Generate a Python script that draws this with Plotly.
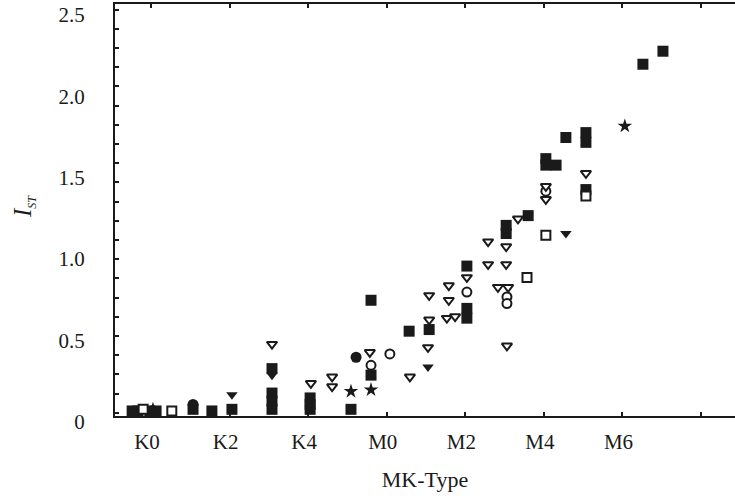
import plotly.graph_objects as go

# MK spectral subtype as a number: K0=0 ... K4=4, M0=6, M2=8 ... (K5 = 5)
tick_vals = [0, 2, 4, 6, 8, 10, 12]
tick_text = ["K0", "K2", "K4", "M0", "M2", "M4", "M6"]
y_tick_vals = [0, 0.5, 1.0, 1.5, 2.0, 2.5]
y_tick_text = ["0", "0.5", "1.0", "1.5", "2.0", "2.5"]

# filled squares
fs_x = [-0.48, -0.33, -0.03, 0.13, 1.07, 1.55, 2.06, 3.08, 3.08, 3.08, 3.08, 4.05, 4.05, 4.05,
        5.09, 5.6, 5.6, 6.57, 7.08, 8.04, 8.04, 8.04, 9.04, 9.04, 9.6, 10.05, 10.05, 10.31,
        10.56, 11.07, 11.07, 11.07, 12.52, 13.03]
fs_y = [0.03, 0.03, 0.03, 0.03, 0.04, 0.03, 0.04, 0.14, 0.09, 0.04, 0.29, 0.11, 0.07, 0.04,
        0.04, 0.25, 0.71, 0.52, 0.53, 0.92, 0.66, 0.60, 1.17, 1.12, 1.23, 1.58, 1.54, 1.54,
        1.71, 1.74, 1.68, 1.39, 2.16, 2.24]
# open squares
os_x = [-0.2, 0.53, 9.57, 10.05, 11.07]
os_y = [0.04, 0.03, 0.85, 1.11, 1.35]
# filled circles
fc_x = [1.07, 5.22]
fc_y = [0.07, 0.36]
# open circles
oc_x = [5.6, 6.08, 8.04, 9.06, 9.06, 10.05]
oc_y = [0.31, 0.38, 0.76, 0.73, 0.69, 1.38]
# filled down-triangles
ft_x = [2.06, 3.08, 7.05, 10.56]
ft_y = [0.13, 0.25, 0.30, 1.12]
# open down-triangles
ot_x = [3.08, 4.07, 4.61, 4.61, 5.57, 6.59, 7.08, 7.05, 7.08, 7.58, 7.58, 7.53, 7.74, 8.04,
        8.58, 8.58, 9.04, 9.04, 8.83, 9.09, 9.06, 9.34, 10.05, 10.05, 11.07]
ot_y = [0.44, 0.20, 0.24, 0.18, 0.39, 0.24, 0.59, 0.42, 0.74, 0.80, 0.71, 0.60, 0.61, 0.85,
        1.07, 0.93, 1.04, 0.93, 0.79, 0.79, 0.43, 1.21, 1.41, 1.33, 1.49]
# stars
st_x = [0.05, 5.09, 5.6, 12.06]
st_y = [0.04, 0.15, 0.16, 1.78]

INK = "#1a1a1a"
FONT = "Liberation Serif, Times New Roman, serif"

fig = go.Figure()

def add(xs, ys, symbol, size, filled):
    if filled:
        marker = dict(symbol=symbol, size=size, color=INK, line=dict(width=0))
    else:
        marker = dict(symbol=symbol, size=size, color="white", line=dict(color=INK, width=2))
    fig.add_trace(go.Scatter(x=xs, y=ys, mode="markers", marker=marker,
                             showlegend=False, hoverinfo="skip", cliponaxis=False))

add(fs_x, fs_y, "square", 11, True)
add(fc_x, fc_y, "circle", 11, True)
add(ft_x, ft_y, "triangle-down", 10, True)
add(st_x, st_y, "star", 11, True)
add(os_x, os_y, "square", 9, False)
add(oc_x, oc_y, "circle", 9, False)
add(ot_x, ot_y, "triangle-down", 9, False)

fig.update_layout(
    width=735, height=500,
    margin=dict(l=115, r=0, t=4, b=84, autoexpand=False),
    paper_bgcolor="white", plot_bgcolor="white",
    font=dict(family=FONT, size=21, color=INK),
    xaxis=dict(
        range=[-0.916, 14.864], automargin=False,
        tickmode="array", tickvals=tick_vals, ticktext=tick_text,
        ticks="inside", ticklen=4, tickwidth=2, tickcolor=INK,
        showline=True, linecolor=INK, linewidth=2, mirror="ticks",
        showgrid=False, zeroline=False,
        ticklabelshift=-4, ticklabelstandoff=6, ticklabeloverflow="allow",
        minor=dict(tickmode="linear", tick0=0, dtick=2, ticks="inside",
                   ticklen=4, tickwidth=2, tickcolor=INK, showgrid=False),
        title=dict(text="MK-Type", font=dict(size=22), standoff=18),
    ),
    yaxis=dict(
        range=[-0.001, 2.53], automargin=False,
        tickmode="array", tickvals=y_tick_vals, ticktext=y_tick_text,
        ticks="", showline=True, linecolor=INK, linewidth=2, mirror=False,
        showgrid=False, zeroline=False,
        ticklabelshift=6, ticklabelstandoff=24, ticklabeloverflow="allow",
        minor=dict(tickmode="linear", tick0=0.018, dtick=0.118, ticks="inside",
                   ticklen=4, tickwidth=2, tickcolor=INK, showgrid=False),
    ),
    annotations=[dict(
        text="<i>I</i><sub><span style='font-size:12px'><i>ST</i></span></sub>",
        xref="paper", yref="paper", x=(24 - 115) / 620, y=(416 - 207) / 412,
        xanchor="center", yanchor="middle", textangle=-90, showarrow=False,
        font=dict(family=FONT, size=25, color=INK),
    )],
)

fig.write_html("out.html", config={"displayModeBar": False},
               post_script="document.body.style.margin='0';document.body.style.padding='0';")
